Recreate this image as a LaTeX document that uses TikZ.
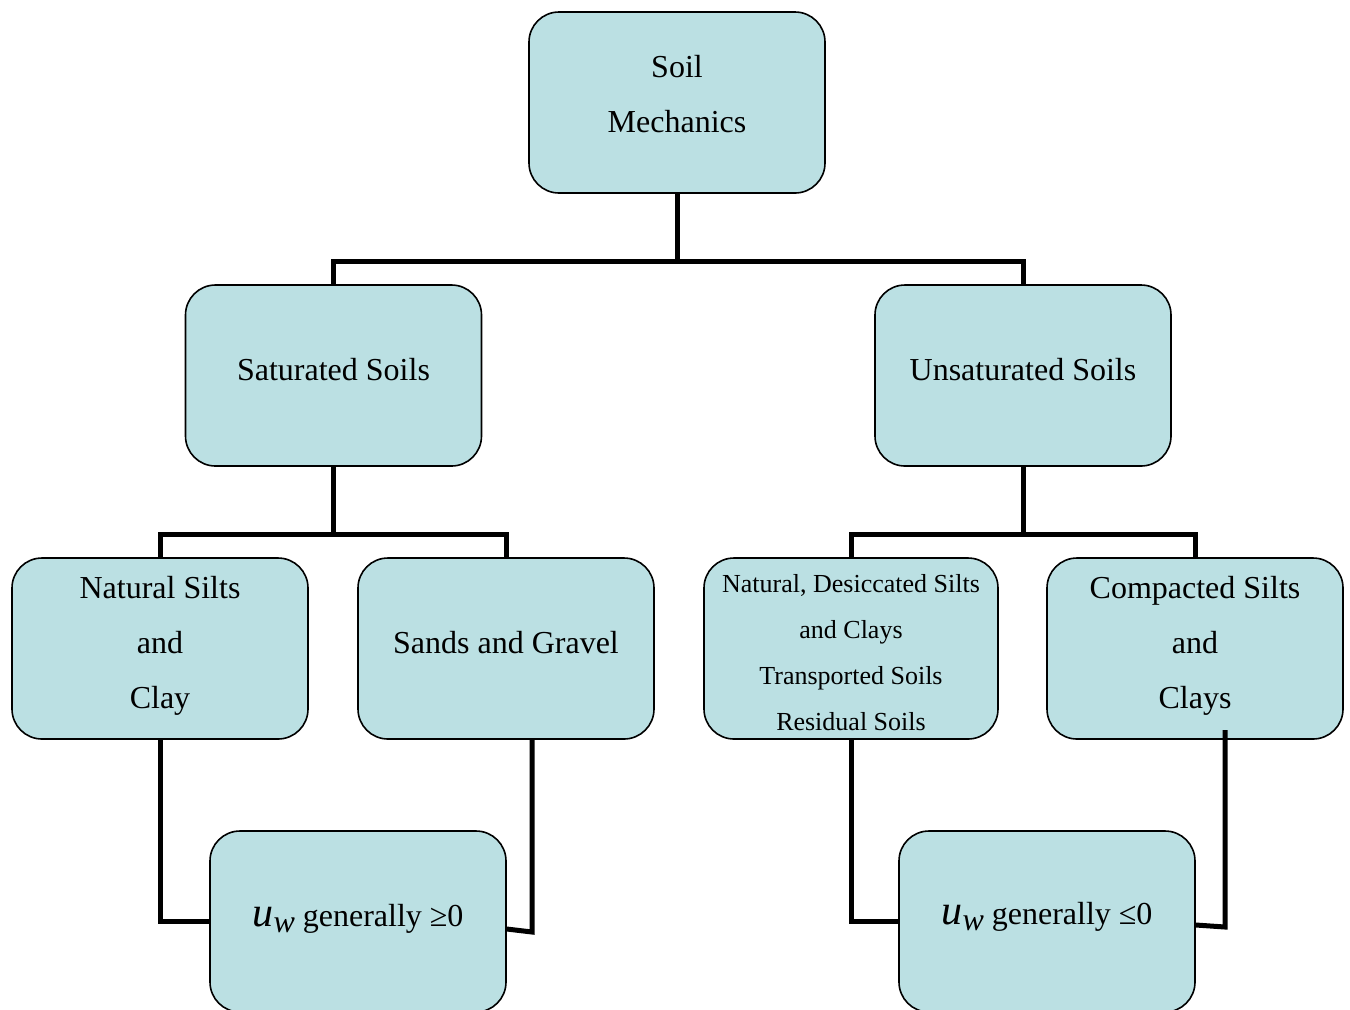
\documentclass[tikz,border=0pt]{standalone}
\usepackage{fontspec}
\setmainfont{Liberation Serif}
\definecolor{boxfill}{RGB}{187,224,227}
\begin{document}
\begin{tikzpicture}[x=0.5pt,y=-0.5pt,
  box/.style={draw, line width=0.8pt, fill=boxfill, rounded corners=15pt,
    minimum width=148pt, minimum height=90.5pt, inner sep=0pt},
  txt/.style={font=\fontsize{16}{27.5}\selectfont, align=center, yshift=3pt},
  small/.style={font=\fontsize{13}{23}\selectfont, align=center, yshift=-2pt},
  conn/.style={line width=2.5pt, line join=miter}]
\useasboundingbox (0,0) rectangle (1350,1009);
\clip (0,0) rectangle (1350,1009);
\fill[white] (0,0) rectangle (1350,1009);

\node[box, label={[txt,yshift=1pt]center:{Soil\\Mechanics}}] (sm) at (677,102.5) {};
\node[box, label={[txt]center:{Saturated Soils}}] (sat) at (333.5,375.5) {};
\node[box, label={[txt]center:{Unsaturated Soils}}] (unsat) at (1023,375.5) {};
\node[box, label={[txt,yshift=-1.5pt]center:{Natural Silts\\and\\Clay}}] (nsc) at (160,648.5) {};
\node[box, label={[txt]center:{Sands and Gravel}}] (sg) at (506,648.5) {};
\node[box, minimum width=147pt, label={[small]center:{Natural, Desiccated Silts\\and Clays\\Transported Soils\\Residual Soils}}] (nd) at (851,648.5) {};
\node[box, label={[txt,yshift=-1.5pt]center:{Compacted Silts\\and\\Clays}}] (cs) at (1195,648.5) {};
\node[box, label={[txt,yshift=-1.5pt]center:{\textit{\fontsize{21}{21}\selectfont u}\raisebox{-3pt}{\textit{w}} generally ≥0}}] (uw1) at (358,921.5) {};
\node[box, label={[txt,yshift=-0.5pt]center:{\textit{\fontsize{21}{21}\selectfont u}\raisebox{-3pt}{\textit{w}} generally ≤0}}] (uw2) at (1047,921.5) {};

\coordinate (j1) at (677,261);
\coordinate (j2) at (333.5,534);
\coordinate (j3) at (1023,534);
\coordinate (c1) at (532,932);
\coordinate (c2top) at (1225,730);
\coordinate (c2) at (1225,927);

\draw[conn] (sm.south) -- (j1);
\draw[conn] (sat.north) |- (j1) -| (unsat.north);
\draw[conn] (sat.south) -- (j2);
\draw[conn] (nsc.north) |- (j2) -| (sg.north);
\draw[conn] (unsat.south) -- (j3);
\draw[conn] (nd.north) |- (j3) -| (cs.north);
\draw[conn] (nsc.south) |- (uw1.west);
\draw[conn] (sg.south -| c1) -- (c1) -- ([yshift=-3.75pt]uw1.east);
\draw[conn] (nd.south) |- (uw2.west);
\draw[conn] (c2top) -- (c2) -- ([yshift=-1.75pt]uw2.east);
\end{tikzpicture}
\end{document}
